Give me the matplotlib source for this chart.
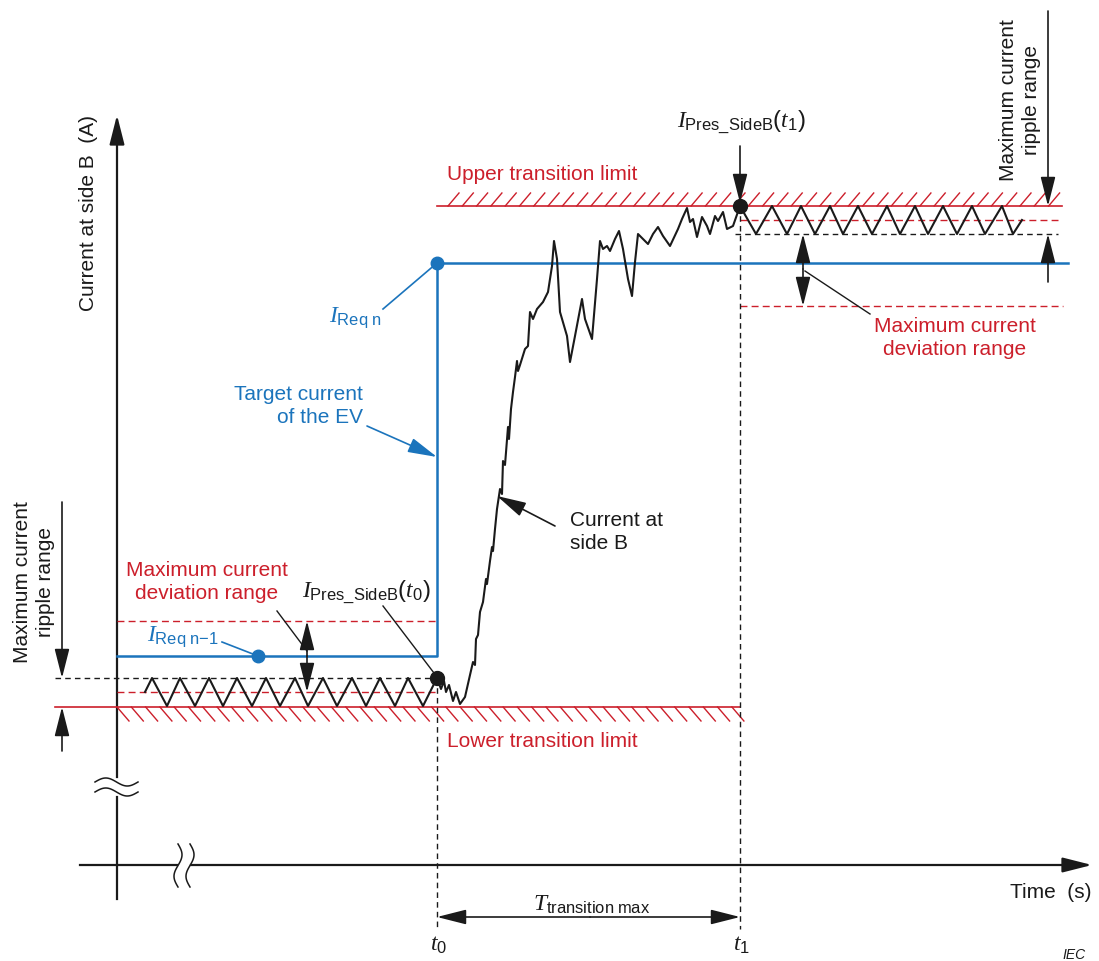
import numpy as np
import matplotlib
matplotlib.use('Agg')
import matplotlib.pyplot as plt

plt.rcParams['font.family'] = 'Liberation Sans'
plt.rcParams['mathtext.fontset'] = 'custom'
plt.rcParams['mathtext.rm'] = 'Liberation Sans'
plt.rcParams['mathtext.it'] = 'Liberation Serif:italic'
plt.rcParams['mathtext.bf'] = 'Liberation Sans:bold'

'''colours'''
BLUE = '#1b74bc'
RED = '#cc1f2b'
BLACK = '#1a1a1a'
FS = 15      # plain text size
FS_M = 17    # symbol labels

'''time markers (pixel units of the sketch)'''
t0_x = 437
t1_x = 740

'''current levels'''
upper_limit_y = 207
lower_limit_y = 708
req_n_y = 264
req_n1_y = 657
ripple_low_top_y = 679
dev_low_top_y = 622
dev_low_bot_y = 693
ripple_high_bot_y = 235
dev_high_top_y = 221
dev_high_bot_y = 307

'''ripple before the step'''
ripple_low_x = [145, 152, 167, 180, 195, 209, 223, 237, 252, 266, 280, 295, 308,
                323, 337, 352, 366, 380, 395, 408, 423, 437]
ripple_low_y = [693, 679, 707, 679, 707, 679, 707, 679, 707, 679, 707, 679, 707,
                679, 707, 679, 707, 679, 707, 679, 707, 679]

'''ripple after the step'''
ripple_high_x = [740, 756, 772, 787, 801, 815, 830, 843, 858, 872, 887, 900, 915,
                 928, 943, 957, 972, 985, 1002, 1013, 1022]
ripple_high_y = [207, 235, 207, 235, 207, 235, 207, 235, 207, 235, 207, 235, 207,
                 235, 207, 235, 207, 235, 207, 235, 221]

'''measured current at side B during the transition'''
curve_x = [437, 441, 444, 446, 449, 453, 456, 460, 465, 470, 473, 475, 476, 478,
           480, 483, 486, 487, 490, 492, 493, 495, 497, 500, 502, 503, 505, 508,
           509, 511, 513, 515, 517, 518, 520, 525, 528, 530, 533, 537, 543, 548,
           552, 554, 557, 560, 567, 570, 575, 582, 585, 592, 597, 600, 603, 607,
           610, 615, 619, 623, 628, 632, 635, 638, 643, 648, 653, 658, 663, 670,
           678, 682, 687, 690, 693, 697, 702, 707, 710, 715, 718, 723, 727, 733,
           740]
curve_y = [679, 690, 682, 693, 686, 702, 693, 705, 698, 676, 663, 666, 640, 636,
           613, 603, 580, 585, 562, 548, 552, 530, 510, 490, 495, 462, 466, 428,
           440, 410, 393, 378, 362, 372, 366, 350, 347, 313, 320, 310, 303, 293,
           267, 242, 260, 313, 337, 363, 337, 300, 320, 340, 280, 242, 250, 247,
           252, 240, 232, 250, 280, 297, 263, 235, 240, 245, 235, 228, 237, 247,
           230, 220, 209, 223, 220, 238, 218, 227, 235, 217, 222, 213, 230, 227,
           207]

fig = plt.figure(figsize=(10.99, 9.62), dpi=100)
ax = fig.add_axes([0, 0, 1, 1])
ax.set_xlim(0, 1099)
ax.set_ylim(962, 0)
ax.axis('off')


def arrow(tip, tail, color=BLACK, lw=1.2, hl=1.5, hw=0.38, ms=12):
    ax.annotate('', xy=tip, xytext=tail,
                arrowprops=dict(arrowstyle='-|>,head_length=%s,head_width=%s' % (hl, hw),
                                color=color, lw=lw, mutation_scale=ms,
                                shrinkA=0, shrinkB=0))


# axes of the sketch
ax.plot([117, 117], [900, 798], color=BLACK, lw=1.6)
ax.plot([117, 117], [778, 130], color=BLACK, lw=1.6)
arrow((117, 116), (117, 140), lw=1.6)
ax.plot([80, 177], [866, 866], color=BLACK, lw=1.6)
ax.plot([191, 1075], [866, 866], color=BLACK, lw=1.6)
arrow((1092, 866), (1070, 866), lw=1.6)

# axis break marks
wx = np.linspace(95, 138, 60)
for y0 in [783, 793]:
    ax.plot(wx, y0 - 4 * np.sin((wx - 95) / 43 * 2 * np.pi), color=BLACK, lw=1.1)
wy = np.linspace(845, 888, 60)
for x0 in [178, 190]:
    ax.plot(x0 + 4 * np.sin((wy - 845) / 43 * 2 * np.pi), wy, color=BLACK, lw=1.1)

ax.text(88, 213, 'Current at side B  (A)', rotation=90, ha='center', va='center',
        fontsize=FS, color=BLACK)
ax.text(1092, 893, 'Time  (s)', ha='right', va='center', fontsize=FS, color=BLACK)
ax.text(1086, 955, 'IEC', ha='right', va='center', fontsize=10, style='italic',
        color=BLACK)

# transition limits with hatching
ax.plot([55, t1_x], [lower_limit_y, lower_limit_y], color=RED, lw=1.2)
for hx in np.arange(117, 732, 14.3):
    ax.plot([hx, hx + 12], [lower_limit_y, lower_limit_y + 14], color=RED, lw=1.0)
ax.plot([t0_x, 1062], [upper_limit_y, upper_limit_y], color=RED, lw=1.2)
for hx in np.arange(448, 1052, 14.3):
    ax.plot([hx, hx + 11], [upper_limit_y, upper_limit_y - 13], color=RED, lw=1.0)
ax.text(447, 175, 'Upper transition limit', ha='left', va='center', fontsize=FS, color=RED)
ax.text(447, 742, 'Lower transition limit', ha='left', va='center', fontsize=FS, color=RED)

# deviation and ripple reference lines
ax.plot([117, t0_x], [dev_low_top_y] * 2, color=RED, lw=1.0, ls=(0, (5, 3)))
ax.plot([117, t0_x], [dev_low_bot_y] * 2, color=RED, lw=1.0, ls=(0, (5, 3)))
ax.plot([55, t0_x], [ripple_low_top_y] * 2, color=BLACK, lw=1.0, ls=(0, (4, 3)))
ax.plot([t1_x, 1058], [dev_high_top_y] * 2, color=RED, lw=1.0, ls=(0, (5, 3)))
ax.plot([t1_x, 1063], [dev_high_bot_y] * 2, color=RED, lw=1.0, ls=(0, (5, 3)))
ax.plot([735, 1058], [ripple_high_bot_y] * 2, color=BLACK, lw=1.0, ls=(0, (4, 3)))

# time markers
ax.plot([t0_x, t0_x], [ripple_low_top_y, 930], color=BLACK, lw=1.0, ls=(0, (4, 3)))
ax.plot([t1_x, t1_x], [upper_limit_y, 930], color=BLACK, lw=1.0, ls=(0, (4, 3)))
ax.text(t0_x + 2, 945, r'$t_0$', ha='center', va='center', fontsize=FS_M, color=BLACK)
ax.text(t1_x + 1, 945, r'$t_1$', ha='center', va='center', fontsize=FS_M, color=BLACK)
arrow((t0_x, 918), (590, 918))
arrow((t1_x, 918), (590, 918))
ax.text(592, 905, r'$T_{\mathrm{transition\ max}}$', ha='center', va='center',
        fontsize=FS_M, color=BLACK)

# target current of the EV
ax.plot([117, t0_x, t0_x, 1068], [req_n1_y, req_n1_y, req_n_y, req_n_y],
        color=BLUE, lw=1.8)
ax.plot([t0_x, 258], [req_n_y, req_n1_y], 'o', color=BLUE, ms=9)
ax.plot([383, t0_x], [310, req_n_y], color=BLUE, lw=1.2)
ax.text(381, 318, r'$I_{\mathrm{Req\ n}}$', ha='right', va='center', fontsize=FS_M,
        color=BLUE)
ax.plot([222, 258], [643, req_n1_y], color=BLUE, lw=1.2)
ax.text(219, 637, r'$I_{\mathrm{Req\ n{-}1}}$', ha='right', va='center', fontsize=FS_M,
        color=BLUE)
ax.text(363, 406, 'Target current\nof the EV', ha='right', va='center', fontsize=FS,
        color=BLUE, linespacing=1.3)
arrow((t0_x, 458), (367, 427), color=BLUE)

# ripples and measured current
ax.plot(ripple_low_x, ripple_low_y, color=BLACK, lw=1.5)
ax.plot(ripple_high_x, ripple_high_y, color=BLACK, lw=1.5)
ax.plot(curve_x, curve_y, color=BLACK, lw=1.5, solid_joinstyle='round')
ax.plot([t0_x, t1_x], [ripple_low_top_y, upper_limit_y], 'o', color=BLACK, ms=10)

ax.text(570, 532, 'Current at\nside B', ha='left', va='center', fontsize=FS,
        color=BLACK, linespacing=1.3)
arrow((497, 497), (555, 527))

# present current labels
ax.text(366, 592, r'$I_{\mathrm{Pres\_SideB}}(t_0)$', ha='center', va='center',
        fontsize=FS_M, color=BLACK)
ax.plot([383, 434], [607, 674], color=BLACK, lw=1.0)
ax.text(741, 122, r'$I_{\mathrm{Pres\_SideB}}(t_1)$', ha='center', va='center',
        fontsize=FS_M, color=BLACK)
arrow((t1_x, 204), (t1_x, 147))

# deviation range, before the step
arrow((307, dev_low_top_y), (307, 657))
arrow((307, dev_low_bot_y), (307, 657))
ax.plot([277, 307], [612, 652], color=BLACK, lw=1.0)
ax.text(207, 582, 'Maximum current\ndeviation range', ha='center', va='center',
        fontsize=FS, color=RED, linespacing=1.3)

# deviation range, after the step
arrow((803, ripple_high_bot_y), (803, 270))
arrow((803, dev_high_bot_y), (803, 270))
ax.plot([805, 870], [272, 315], color=BLACK, lw=1.0)
ax.text(955, 338, 'Maximum current\ndeviation range', ha='center', va='center',
        fontsize=FS, color=RED, linespacing=1.3)

# ripple range, left
arrow((62, ripple_low_top_y), (62, 503))
arrow((62, lower_limit_y), (62, 752))
ax.text(34, 582, 'Maximum current\nripple range', rotation=90, ha='center', va='center',
        fontsize=FS, color=BLACK, linespacing=1.3)

# ripple range, right
arrow((1048, upper_limit_y), (1048, 12))
arrow((1048, ripple_high_bot_y), (1048, 283))
ax.text(1020, 100, 'Maximum current\nripple range', rotation=90, ha='center',
        va='center', fontsize=FS, color=BLACK, linespacing=1.3)

plt.savefig('out.png', dpi=100)
